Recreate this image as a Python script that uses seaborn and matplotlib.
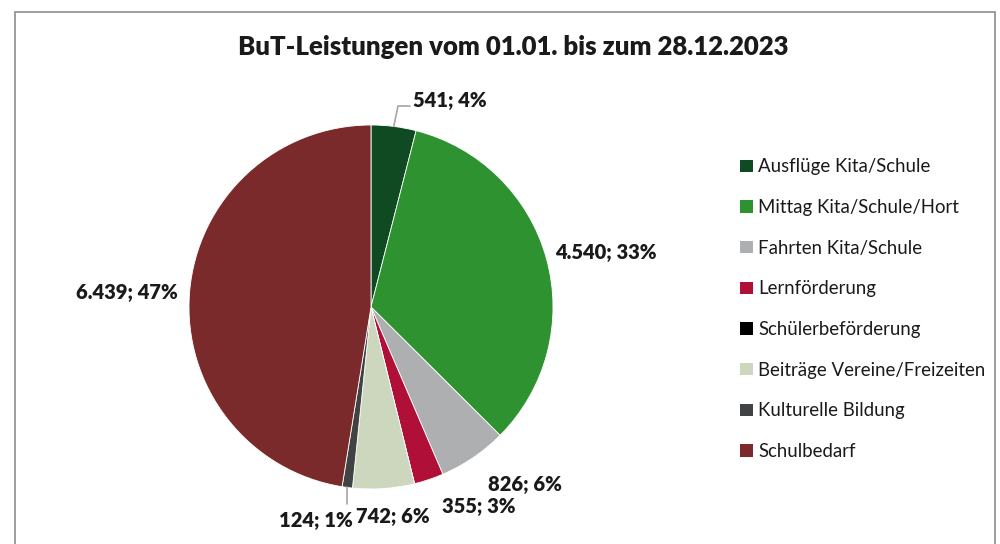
import numpy as np
import matplotlib
matplotlib.use("Agg")
import matplotlib.pyplot as plt
from matplotlib.patches import Patch, Rectangle
import seaborn as sns

categories = ["Ausflüge Kita/Schule", "Mittag Kita/Schule/Hort", "Fahrten Kita/Schule",
              "Lernförderung", "Schülerbeförderung", "Beiträge Vereine/Freizeiten",
              "Kulturelle Bildung", "Schulbedarf"]
values = [541, 4540, 826, 355, 0, 742, 124, 6439]
value_labels = ["541", "4.540", "826", "355", "", "742", "124", "6.439"]
percent_labels = ["4%", "33%", "6%", "3%", "", "6%", "1%", "47%"]
colors = ["#0f4a22", "#2e9230", "#aeafb1", "#b01038", "#000000", "#cdd7bd", "#414244", "#7a2a2a"]

sns.set_theme(style="white")
plt.rcParams["font.family"] = ["Lato", "DejaVu Sans"]

fig = plt.figure(figsize=(10, 5.44), dpi=100)
ax = fig.add_axes([0, 0, 1, 1])

# chart frame
fig.patches.append(Rectangle((15 / 1000, -0.1), 980 / 1000, 1.1 - 12 / 544,
                             transform=fig.transFigure, fill=False,
                             edgecolor="#8c8c8c", linewidth=1.2))

cx, cy, r = 371, 544 - 307, 182
wedges, _ = ax.pie(values, colors=colors, startangle=90, counterclock=False,
                   center=(cx, cy), radius=r, frame=True,
                   wedgeprops=dict(edgecolor="white", linewidth=0.6))
ax.set_xlim(0, 1000)
ax.set_ylim(0, 544)
ax.set_aspect("equal")
ax.axis("off")

# label positions (pixel coords from top)
label_pos = [(450, 101), (606, 252), (525, 485), (479, 507), None, (393, 517), (316, 520), (127, 292)]
for vl, pl, pos in zip(value_labels, percent_labels, label_pos):
    if pos is None:
        continue
    ax.text(pos[0], 544 - pos[1], f"{vl}; {pl}", ha="center", va="center",
            fontsize=14.5, fontweight="heavy", color="#1a1a1a")

# leader lines
total = sum(values)
cum = np.cumsum([0] + values[:-1])
mids = [np.deg2rad(90 - 360 * (c + v / 2) / total) for c, v in zip(cum, values)]
a = mids[0]
ax.plot([cx + r * np.cos(a), 398, 410], [cy + r * np.sin(a), 544 - 106, 544 - 106],
        color="#a6a6a6", lw=1.2)
a = mids[6]
x0 = cx + r * np.cos(a)
ax.plot([x0, x0], [cy + r * np.sin(a), 544 - 504], color="#a6a6a6", lw=1.2)

ax.text(513, 544 - 47, "BuT-Leistungen vom 01.01. bis zum 28.12.2023", ha="center",
        va="center", fontsize=18.5, fontweight="heavy", color="#1a1a1a")

handles = [Patch(facecolor=c, edgecolor="none") for c in colors]
fig.legend(handles, categories, loc="upper left", bbox_to_anchor=(0.733, 1 - 151 / 544),
           frameon=False, fontsize=13.4, handlelength=0.65, handleheight=0.65,
           handletextpad=0.3, labelspacing=1.27, borderaxespad=0, labelcolor="#1a1a1a")

fig.savefig("out.png", dpi=100)
